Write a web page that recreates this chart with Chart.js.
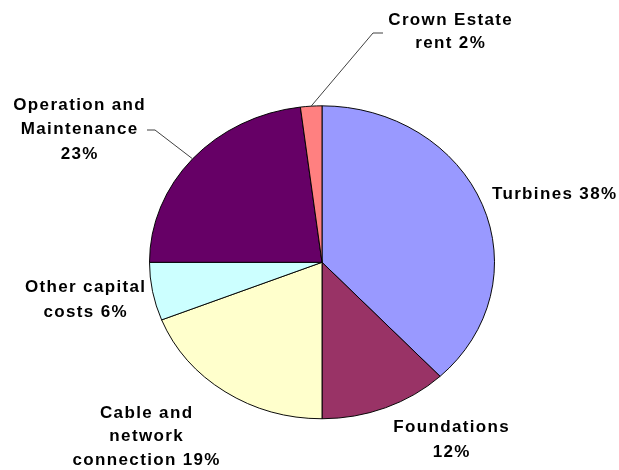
<!DOCTYPE html>
<html>
<head>
<meta charset="utf-8">
<script src="https://cdn.jsdelivr.net/npm/chart.js@4.4.1/dist/chart.umd.min.js"></script>
<style>
  html, body { margin: 0; padding: 0; background: #ffffff; }
  #wrap { width: 619px; height: 470px; position: relative; }
</style>
</head>
<body>
<div id="wrap"><canvas id="pie" width="619" height="470"></canvas></div>
<script>
// Offshore wind cost breakdown (%), clockwise from 12 o'clock
const categories = ['Turbines', 'Foundations', 'Cable and network connection', 'Other capital costs', 'Operation and Maintenance', 'Crown Estate rent'];
const shares = [38, 12, 19, 6, 23, 2];
const sliceColors = ['#9999FF', '#993366', '#FFFFCC', '#CCFFFF', '#660066', '#FF8080'];

// How each category name is wrapped in its label; the percentage is appended
// to the last line, or put on its own line when pctOwnLine is set.
const nameLines = [
  ['Turbines'],
  ['Foundations'],
  ['Cable and', 'network', 'connection'],
  ['Other capital', 'costs'],
  ['Operation and', 'Maintenance'],
  ['Crown Estate', 'rent']
];
const pctOwnLine = [false, true, false, false, true, false];

// Label placement (centre x, line centres y) and optional leader-line bends
const labelPos = [
  { x: 554, y: [194] },
  { x: 451, y: [427, 452] },
  { x: 146, y: [413, 436, 460] },
  { x: 85,  y: [287, 312] },
  { x: 79,  y: [105, 129, 154] },
  { x: 450, y: [20, 43] }
];
const leaderBends = [null, null, null, null,
  [[155, 130], [147, 130]],
  [[373, 33], [383, 33]]
];

const SQUASH = 0.907;   // vertical flattening of the pie

const ellipsePlugin = {
  id: 'ellipse',
  beforeDatasetsDraw(chart) {
    const arc = chart.getDatasetMeta(0).data[0];
    const ctx = chart.ctx;
    ctx.save();
    ctx.translate(arc.x, arc.y);
    ctx.scale(1, SQUASH);
    ctx.translate(-arc.x, -arc.y);
  },
  afterDatasetsDraw(chart) {
    chart.ctx.restore();
  }
};

const labelPlugin = {
  id: 'sliceLabels',
  afterDraw(chart) {
    const ctx = chart.ctx;
    const arcs = chart.getDatasetMeta(0).data;
    ctx.save();
    // leader lines from the outer edge of a slice (at its mid-angle)
    ctx.strokeStyle = '#404040';
    ctx.lineWidth = 1;
    arcs.forEach((arc, i) => {
      const bends = leaderBends[i];
      if (!bends) return;
      const mid = (arc.startAngle + arc.endAngle) / 2;
      const ax = arc.x + Math.cos(mid) * arc.outerRadius;
      const ay = arc.y + Math.sin(mid) * arc.outerRadius * SQUASH;
      ctx.beginPath();
      ctx.moveTo(ax, ay);
      bends.forEach(p => ctx.lineTo(p[0], p[1]));
      ctx.stroke();
    });
    // text
    const spacing = 1.35;
    ctx.font = 'bold 17px "Liberation Sans", Arial, sans-serif';
    ctx.letterSpacing = spacing + 'px';
    ctx.fillStyle = '#000000';
    ctx.textAlign = 'center';
    ctx.textBaseline = 'middle';
    categories.forEach((c, i) => {
      const lines = nameLines[i].slice();
      const pct = shares[i] + '%';
      if (pctOwnLine[i]) lines.push(pct);
      else lines[lines.length - 1] += ' ' + pct;
      lines.forEach((t, k) => {
        ctx.fillText(t, labelPos[i].x + spacing / 2, labelPos[i].y[k]);
      });
    });
    ctx.restore();
  }
};

new Chart(document.getElementById('pie'), {
  type: 'pie',
  data: {
    labels: categories,
    datasets: [{
      data: shares,
      backgroundColor: sliceColors,
      borderColor: '#000000',
      borderWidth: 1
    }]
  },
  options: {
    responsive: false,
    animation: false,
    radius: 172.5,
    layout: { padding: { left: 150, right: 125, top: 90, bottom: 35.4 } },
    plugins: {
      legend: { display: false },
      tooltip: { enabled: false }
    }
  },
  plugins: [ellipsePlugin, labelPlugin]
});
</script>
</body>
</html>
